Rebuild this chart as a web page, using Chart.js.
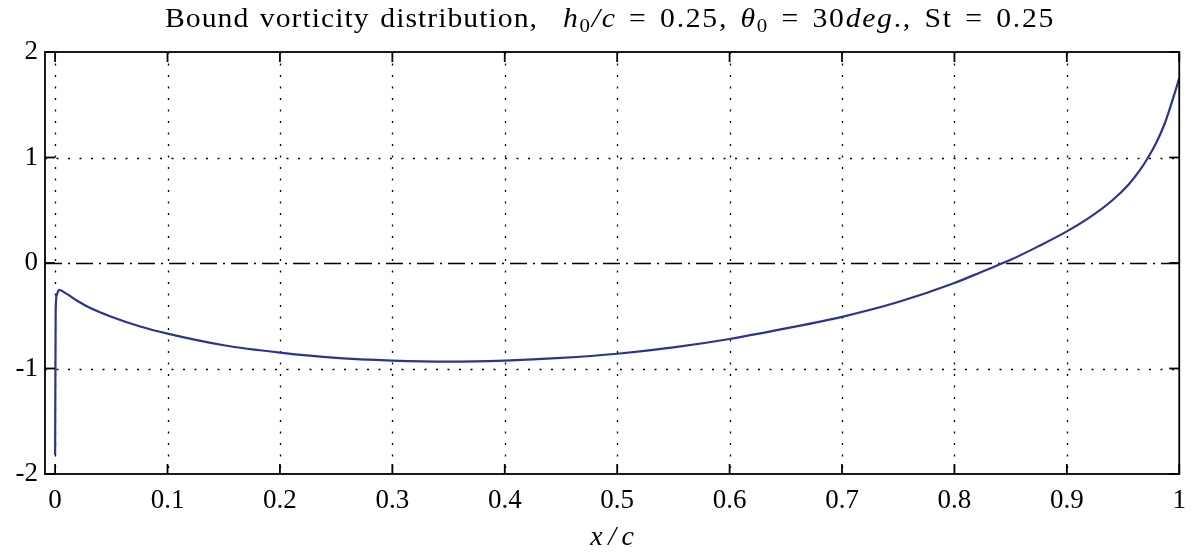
<!DOCTYPE html>
<html>
<head>
<meta charset="utf-8">
<script src="https://cdn.jsdelivr.net/npm/chart.js@4.4.0/dist/chart.umd.min.js"></script>
<style>
  html, body { margin: 0; padding: 0; background: #fff; }
  #wrap { width: 1197px; height: 554px; }
</style>
</head>
<body>
<div id="wrap"><canvas id="chart"></canvas></div>
<script>
// chordwise position x/c and bound vorticity
const xValues = [0, 0.0005, 0.0015, 0.0035, 0.01, 0.02, 0.03, 0.05, 0.075, 0.1,
  0.15, 0.2, 0.25, 0.3, 0.35, 0.4, 0.45, 0.5, 0.55, 0.6,
  0.65, 0.7, 0.75, 0.8, 0.825, 0.85, 0.875, 0.9, 0.92, 0.94,
  0.955, 0.965, 0.972, 0.98, 0.987, 0.993, 1.0];
const gammaValues = [-1.82, -0.45, -0.30, -0.255, -0.29, -0.36, -0.42, -0.51, -0.60, -0.67,
  -0.78, -0.85, -0.90, -0.925, -0.935, -0.925, -0.90, -0.86, -0.80, -0.72,
  -0.62, -0.51, -0.37, -0.19, -0.08, 0.03, 0.16, 0.30, 0.43, 0.59,
  0.745, 0.88, 0.995, 1.15, 1.32, 1.51, 1.75];

const xTicks = [0, 0.1, 0.2, 0.3, 0.4, 0.5, 0.6, 0.7, 0.8, 0.9, 1];
const yTicks = [-2, -1, 0, 1, 2];
const xLimits = [-0.009, 1];
const yLimits = [-2, 2];

// title: [text, style]; drawn in two runs fitted to the widths seen in the figure
const titleText = [['Bound vorticity distribution,', 'n']];
const titleMath = [
  ['h', 'i'], ['0', 'sub'], ['/c', 'i'], [' = 0.25, ', 'n'],
  ['\u03b8', 'i'], ['0', 'sub'], [' = 30', 'n'], ['deg', 'i'],
  ['., St = 0.25', 'n']
];

const serif = "'Liberation Serif', 'DejaVu Serif', serif";

function strokeLine(ctx, x1, y1, x2, y2) {
  ctx.beginPath();
  ctx.moveTo(x1, y1);
  ctx.lineTo(x2, y2);
  ctx.stroke();
}

const titleFonts = {
  n: '27px ' + serif,
  i: 'italic 27px ' + serif,
  sub: '19px ' + serif
};

// glyphs a bit wider than Times, extra room mostly given to spaces
function drawRun(ctx, parts, left, width, base) {
  const sx = 1.1;
  const spaceWeight = 3;
  let natural = 0, weight = 0;
  parts.forEach(([t, s]) => {
    ctx.font = titleFonts[s];
    for (const ch of t) {
      natural += ctx.measureText(ch).width * sx;
      weight += ch === ' ' ? spaceWeight : 1;
    }
  });
  const unit = (width - natural) / weight;
  let cx = left;
  parts.forEach(([t, s]) => {
    ctx.font = titleFonts[s];
    for (const ch of t) {
      ctx.save();
      ctx.translate(cx, s === 'sub' ? base + 5 : base);
      ctx.scale(sx, 1);
      ctx.fillText(ch, 0, 0);
      ctx.restore();
      cx += ctx.measureText(ch).width * sx + unit * (ch === ' ' ? spaceWeight : 1);
    }
  });
}

// dotted grid, dash-dot zero line, inward ticks, box and title
const framePlugin = {
  id: 'frame',
  beforeDatasetsDraw(chart) {
    const { ctx, chartArea: a, scales: { x, y } } = chart;
    ctx.save();
    ctx.strokeStyle = '#000';
    ctx.lineWidth = 1.3;
    ctx.setLineDash([2, 9.5]);
    xTicks.forEach(v => {
      if (v >= xLimits[1]) return;
      const px = Math.round(x.getPixelForValue(v)) + 0.5;
      strokeLine(ctx, px, a.top, px, a.bottom);
    });
    yTicks.forEach(v => {
      if (v <= yLimits[0] || v >= yLimits[1] || v === 0) return;
      const py = Math.round(y.getPixelForValue(v)) + 0.5;
      strokeLine(ctx, a.left, py, a.right, py);
    });
    ctx.setLineDash([17, 6, 2, 6]);
    ctx.lineWidth = 1.7;
    const y0 = Math.round(y.getPixelForValue(0)) + 0.5;
    strokeLine(ctx, a.left, y0, a.right, y0);
    ctx.restore();
  },
  afterDraw(chart) {
    const { ctx, chartArea: a, scales: { x, y } } = chart;
    ctx.save();
    ctx.strokeStyle = '#000';
    ctx.lineWidth = 1.8;
    ctx.setLineDash([]);
    const len = 10;
    xTicks.forEach(v => {
      const px = x.getPixelForValue(v);
      strokeLine(ctx, px, a.bottom, px, a.bottom - len);
      strokeLine(ctx, px, a.top, px, a.top + len);
    });
    yTicks.forEach(v => {
      const py = y.getPixelForValue(v);
      strokeLine(ctx, a.left, py, a.left + len, py);
      strokeLine(ctx, a.right, py, a.right - len, py);
    });
    ctx.strokeRect(a.left, a.top, a.right - a.left, a.bottom - a.top);

    ctx.fillStyle = '#000';
    ctx.textBaseline = 'alphabetic';
    ctx.textAlign = 'left';
    drawRun(ctx, titleText, 165, 373, 27);
    drawRun(ctx, titleMath, 563, 492, 27);
    ctx.restore();
  }
};

const points = xValues.map((v, i) => ({ x: v, y: gammaValues[i] }));

new Chart(document.getElementById('chart'), {
  type: 'line',
  data: {
    datasets: [{
      data: points,
      borderColor: '#2d3394',
      borderWidth: 2.2,
      pointRadius: 0,
      cubicInterpolationMode: 'monotone',
      fill: false
    }]
  },
  options: {
    responsive: true,
    maintainAspectRatio: false,
    animation: false,
    devicePixelRatio: 1,
    layout: { padding: { top: 52, right: 12, left: 0, bottom: 0 } },
    plugins: {
      legend: { display: false },
      tooltip: { enabled: false },
      title: { display: false }
    },
    scales: {
      x: {
        type: 'linear',
        min: xLimits[0],
        max: xLimits[1],
        afterBuildTicks: s => { s.ticks = xTicks.map(v => ({ value: v })); },
        afterFit: s => { s.height = 80; },
        grid: { display: false, drawTicks: false },
        border: { display: false },
        ticks: {
          padding: 11,
          color: '#000',
          maxRotation: 0,
          font: { family: serif, size: 27 },
          callback: v => String(v)
        },
        title: {
          display: true,
          text: 'x\u2009/\u2009c',
          color: '#000',
          padding: { top: 0, bottom: 0 },
          font: { family: serif, size: 28, style: 'italic' }
        }
      },
      y: {
        min: yLimits[0],
        max: yLimits[1],
        afterBuildTicks: s => { s.ticks = yTicks.map(v => ({ value: v })); },
        afterFit: s => { s.width = 45; },
        grid: { display: false, drawTicks: false },
        border: { display: false },
        ticks: {
          padding: 7,
          color: '#000',
          font: { family: serif, size: 27 },
          callback: v => String(v)
        }
      }
    }
  },
  plugins: [framePlugin]
});
</script>
</body>
</html>
